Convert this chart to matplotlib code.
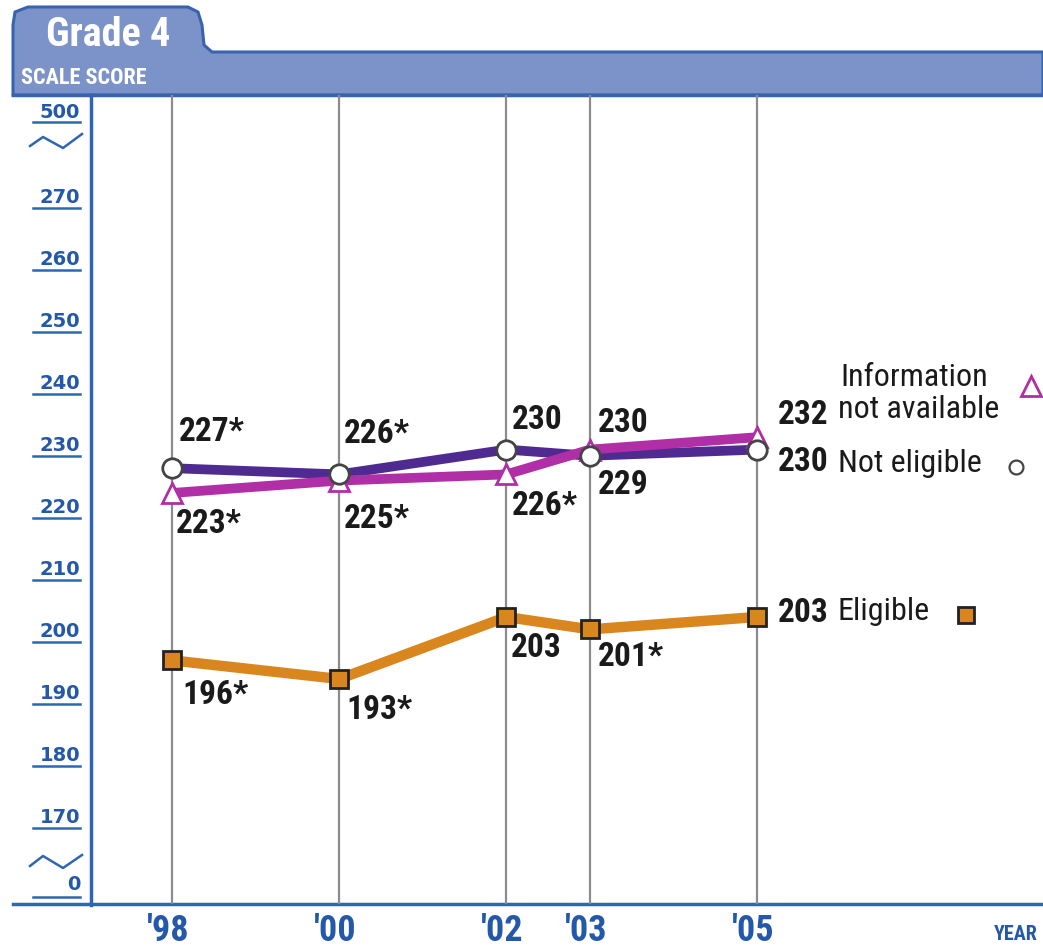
import matplotlib
matplotlib.use("Agg")
import matplotlib.pyplot as plt
import matplotlib.font_manager as fm
from matplotlib.patches import Polygon
import matplotlib.transforms as mtransforms

# ---------------- data ----------------
years = [1998, 2000, 2002, 2003, 2005]
year_labels = ["'98", "'00", "'02", "'03", "'05"]
info_na = [223, 225, 226, 230, 232]
info_na_labels = ["223*", "225*", "226*", "230", "232"]
not_eligible = [227, 226, 230, 229, 230]
not_eligible_labels = ["227*", "226*", "230", "229", "230"]
eligible = [196, 193, 203, 201, 203]
eligible_labels = ["196*", "193*", "203", "201*", "203"]
ytick_values = [270, 260, 250, 240, 230, 220, 210, 200, 190, 180, 170]

def pick(names):
    for n in names:
        try:
            fm.findfont(fm.FontProperties(family=n), fallback_to_default=False)
            return n
        except Exception:
            pass
    return "DejaVu Sans"

FONT = pick(["Liberation Sans Narrow", "DejaVu Sans Condensed", "Roboto Condensed", "DejaVu Sans"])
plt.rcParams['font.family'] = [FONT, 'DejaVu Sans']

BLUE = "#2f66b3"
TICKBLUE = "#2458a8"
HEADER = "#7b93c9"
HEADER_EDGE = "#3a63ad"
PURPLE = "#4f2a90"
MAGENTA = "#b02ea6"
ORANGE = "#d9861f"
GRID = "#8c8c8c"
TXT = "#1a1a1a"

W, H = 1043, 948
fig = plt.figure(figsize=(W / 100, H / 100), dpi=100)

# overlay axes in pixel coordinates
ov = fig.add_axes([0, 0, 1, 1])
ov.set_xlim(0, W)
ov.set_ylim(H, 0)
ov.axis("off")

# main axes: x 91..1043 px, y 95..904 px
ax = fig.add_axes([91 / W, (H - 904) / H, (W - 91) / W, (904 - 95) / H])
ax.set_xlim(1997.03, 2008.42)
ax.set_ylim(156.7, 287.2)
ax.axis("off")

# header tab + band
verts = [(13, 95), (13, 25), (15, 12), (28, 7), (188, 7), (198, 12), (202, 25),
         (204, 45), (212, 52), (1043, 52), (1043, 95), (13, 95)]
ov.add_patch(Polygon(verts, closed=True, facecolor=HEADER, edgecolor=HEADER_EDGE, lw=2.2, zorder=1))
ov.plot([13, 1043], [95, 95], color=HEADER_EDGE, lw=2.5, zorder=2)
ov.text(108, 35, "Grade 4", color="white", fontsize=29, fontweight="bold",
        ha="center", va="center", zorder=3)
ov.text(21, 78, "SCALE SCORE", color="white", fontsize=16, fontweight="bold",
        ha="left", va="center", zorder=3)

# axes lines
ov.plot([91, 91], [95, 905], color=BLUE, lw=2.5, zorder=2)
ov.plot([13, 1043], [904, 904], color=BLUE, lw=2.5, zorder=2)

# vertical year gridlines
for yr in years:
    ax.axvline(yr, color=GRID, lw=1.6, zorder=1)

# y tick labels with underlines
YF = dict(color=TICKBLUE, fontsize=14, fontweight="bold", family=["DejaVu Sans"])
ytr = mtransforms.blended_transform_factory(ov.transData, ax.transData)
for v in ytick_values:
    ax.text(80, v + 0.6, str(v), transform=ytr, ha="right", va="center", clip_on=False, **YF)
    ax.plot([33, 80], [v - 1.0, v - 1.0], transform=ytr, color=BLUE, lw=1.8, clip_on=False)

# break labels
ov.text(80, 112, "500", ha="right", va="center", **YF)
ov.plot([33, 80], [122, 122], color=BLUE, lw=1.8)
ov.plot([30, 43, 63, 82], [146, 137, 148, 134], color=BLUE, lw=1.8)
ov.text(80, 885, "0", ha="right", va="center", **YF)
ov.plot([33, 80], [897, 897], color=BLUE, lw=1.8)
ov.plot([30, 43, 63, 82], [866, 856, 868, 855], color=BLUE, lw=1.8)

# x tick labels
xtr = mtransforms.blended_transform_factory(ax.transData, ov.transData)
for yr, lab in zip(years, year_labels):
    ax.text(yr - 0.05, 931, lab, transform=xtr, ha="center", va="center", color=TICKBLUE,
            fontsize=26, fontweight="bold", clip_on=False)
ov.text(1016, 935, "YEAR", ha="center", va="center", color=TICKBLUE, fontsize=14.5, fontweight="bold")

# lines
ax.plot(years, not_eligible, color=PURPLE, lw=7, zorder=3, solid_capstyle="butt")
ax.plot(years, info_na, color=MAGENTA, lw=7, zorder=4, solid_capstyle="butt")
ax.plot(years, eligible, color=ORANGE, lw=7.5, zorder=3, solid_capstyle="butt")

# markers
ax.plot(years, info_na, ls="none", marker="^", ms=14, mfc="white", mec=MAGENTA, mew=2, zorder=5)
ax.plot(years, not_eligible, ls="none", marker="o", ms=14, mfc="white", mec="#444444", mew=2, zorder=6)
ax.plot(years, eligible, ls="none", marker="s", ms=13, mfc=ORANGE, mec="#222222", mew=2, zorder=6)

# value labels (offsets in pixels; y up)
lab_fs = 24
ne_off = [(7, 36), (5, 40), (5, 30), (8, -29)]
na_off = [(4, -31), (5, -38), (5, -32), (8, 27)]
el_off = [(10, -35), (7, -31), (4, -31), (8, -28)]
for i in range(4):
    ax.annotate(not_eligible_labels[i], (years[i], not_eligible[i]), xytext=ne_off[i],
                textcoords="offset pixels", ha="left", va="center", fontsize=lab_fs,
                fontweight="bold", color=TXT, zorder=7)
    ax.annotate(info_na_labels[i], (years[i], info_na[i]), xytext=na_off[i],
                textcoords="offset pixels", ha="left", va="center", fontsize=lab_fs,
                fontweight="bold", color=TXT, zorder=7)
    ax.annotate(eligible_labels[i], (years[i], eligible[i]), xytext=el_off[i],
                textcoords="offset pixels", ha="left", va="center", fontsize=lab_fs,
                fontweight="bold", color=TXT, zorder=7)

# end labels + legend text
ax.annotate(info_na_labels[4], (years[4], info_na[4]), xytext=(21, 22), textcoords="offset pixels",
            ha="left", va="center", fontsize=lab_fs, fontweight="bold", color=TXT)
ax.annotate(not_eligible_labels[4], (years[4], not_eligible[4]), xytext=(21, -12), textcoords="offset pixels",
            ha="left", va="center", fontsize=lab_fs, fontweight="bold", color=TXT)
ax.annotate(eligible_labels[4], (years[4], eligible[4]), xytext=(21, 4), textcoords="offset pixels",
            ha="left", va="center", fontsize=lab_fs, fontweight="bold", color=TXT)

LF = dict(ha="left", va="center", fontsize=23, color=TXT)
ov.text(840, 378, "Information", **LF)
ov.text(838, 410, "not available", **LF)
ov.text(838, 463, "Not eligible", **LF)
ov.text(838, 612, "Eligible", **LF)
ov.plot([1031], [386], ls="none", marker="^", ms=15, mfc="white", mec=MAGENTA, mew=2, clip_on=False)
ov.plot([1016], [467], ls="none", marker="o", ms=10, mfc="white", mec="#444444", mew=1.6)
ov.plot([966], [615], ls="none", marker="s", ms=12, mfc=ORANGE, mec="#222222", mew=2)

fig.savefig("out.png", dpi=100)
